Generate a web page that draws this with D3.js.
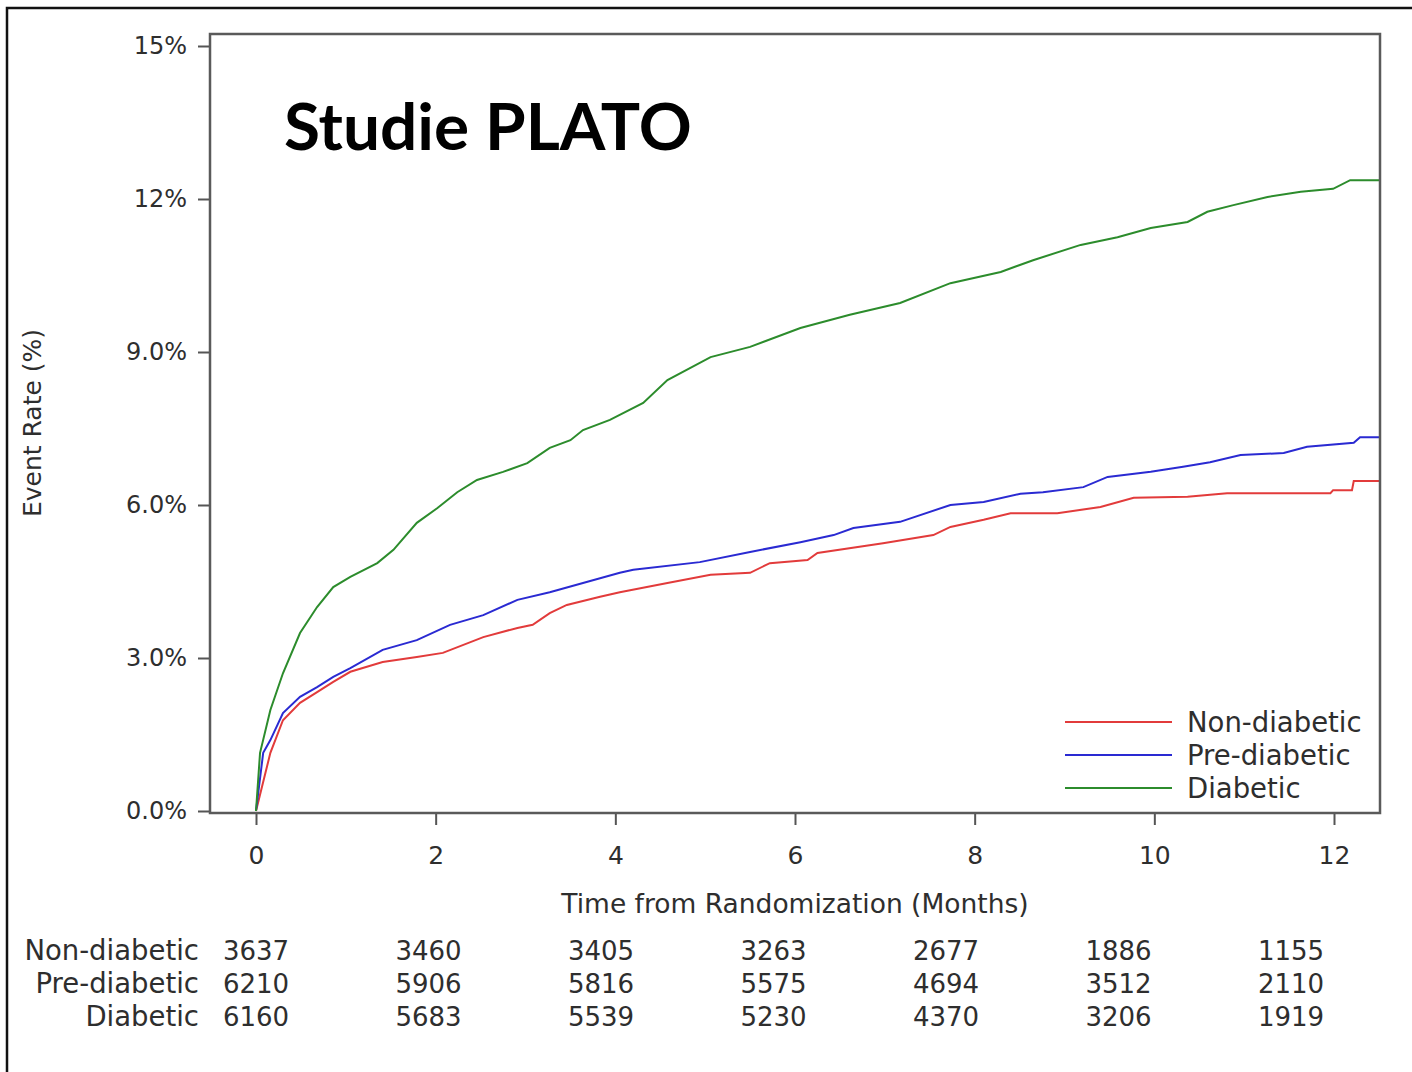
<!DOCTYPE html>
<html>
<head>
<meta charset="utf-8">
<script src="https://cdn.jsdelivr.net/npm/d3@7.9.0/dist/d3.min.js"></script>
<style>
  html, body { margin: 0; padding: 0; background: #fff; }
  svg { display: block; }
</style>
</head>
<body>
<div id="chart"></div>
<script>
// ---------- data ----------
const groups = ["Non-diabetic", "Pre-diabetic", "Diabetic"];
const groupColors = ["#e23b3b", "#2a2ad2", "#2c8c2c"];

// [months, event rate %]
const nonDiabetic = [
  [0, 0], [0.16, 1.14], [0.30, 1.78], [0.49, 2.12], [0.68, 2.33], [0.86, 2.53],
  [1.05, 2.73], [1.41, 2.92], [1.79, 3.02], [2.08, 3.10], [2.53, 3.41], [2.91, 3.59],
  [3.08, 3.65], [3.27, 3.88], [3.46, 4.04], [3.83, 4.20], [4.05, 4.29], [4.58, 4.47],
  [5.06, 4.63], [5.50, 4.67], [5.72, 4.86], [6.14, 4.92], [6.25, 5.06], [6.98, 5.25],
  [7.54, 5.41], [7.73, 5.57], [8.10, 5.71], [8.40, 5.84], [8.92, 5.84], [9.40, 5.96],
  [9.77, 6.14], [10.37, 6.16], [10.81, 6.23], [11.96, 6.23], [11.99, 6.29],
  [12.20, 6.29], [12.22, 6.47], [12.52, 6.47]
];
const preDiabetic = [
  [0, 0], [0.08, 1.14], [0.16, 1.39], [0.30, 1.92], [0.49, 2.24], [0.68, 2.43],
  [0.86, 2.63], [1.05, 2.80], [1.41, 3.16], [1.79, 3.35], [2.16, 3.65], [2.53, 3.84],
  [2.91, 4.14], [3.27, 4.29], [3.64, 4.47], [4.05, 4.67], [4.20, 4.73], [4.94, 4.88],
  [5.50, 5.08], [6.06, 5.27], [6.43, 5.41], [6.65, 5.55], [7.17, 5.67], [7.73, 6.00],
  [8.10, 6.06], [8.51, 6.22], [8.76, 6.25], [9.21, 6.35], [9.48, 6.55], [9.96, 6.65],
  [10.32, 6.75], [10.62, 6.84], [10.96, 6.98], [11.44, 7.02], [11.70, 7.14],
  [12.22, 7.22], [12.29, 7.33], [12.52, 7.33]
];
const diabetic = [
  [0, 0], [0.045, 1.14], [0.16, 1.98], [0.30, 2.70], [0.49, 3.49], [0.68, 4.00],
  [0.86, 4.39], [1.05, 4.59], [1.35, 4.86], [1.53, 5.12], [1.79, 5.65], [2.02, 5.94],
  [2.24, 6.25], [2.46, 6.49], [2.75, 6.65], [3.02, 6.82], [3.27, 7.12], [3.50, 7.27],
  [3.64, 7.47], [3.94, 7.67], [4.31, 8.00], [4.58, 8.45], [5.06, 8.90], [5.50, 9.10],
  [6.06, 9.47], [6.61, 9.73], [7.17, 9.96], [7.73, 10.35], [8.29, 10.57], [8.65, 10.80],
  [9.18, 11.10], [9.59, 11.25], [9.96, 11.43], [10.37, 11.55], [10.59, 11.75],
  [10.88, 11.88], [11.26, 12.04], [11.63, 12.14], [11.99, 12.20], [12.18, 12.37],
  [12.52, 12.37]
];
const curves = [nonDiabetic, preDiabetic, diabetic];

const xTicks = [0, 2, 4, 6, 8, 10, 12];
const yTicks = [0, 3, 6, 9, 12, 15];
const yTickLabels = ["0.0%", "3.0%", "6.0%", "9.0%", "12%", "15%"];

// patients at risk, one row per group, one value per month
const riskMonths = [0, 2, 4, 6, 8, 10, 12];
const atRisk = [
  [3637, 3460, 3405, 3263, 2677, 1886, 1155],
  [6210, 5906, 5816, 5575, 4694, 3512, 2110],
  [6160, 5683, 5539, 5230, 4370, 3206, 1919]
];

const title = "Studie PLATO";
const xLabel = "Time from Randomization (Months)";
const yLabel = "Event Rate (%)";

// ---------- layout ----------
const W = 1412, H = 1072;
const plot = { left: 210, right: 1380, top: 34, bottom: 813 };
const font = '"DejaVu Sans", Verdana, sans-serif';
const ink = "#2e2e2e";

const svg = d3.select("#chart").append("svg").attr("width", W).attr("height", H)
  .style("font-family", font);

// outer black frame
svg.append("rect")
  .attr("x", 7).attr("y", 8).attr("width", W + 20).attr("height", H + 20)
  .attr("fill", "none").attr("stroke", "#111").attr("stroke-width", 2.5);

const x = d3.scaleLinear().domain([0, 12]).range([256, 1334]);
const y = d3.scaleLinear().domain([0, 15]).range([811, 46]);

// curves
const line = d3.line().x(d => x(d[0])).y(d => y(d[1]));
svg.append("g").selectAll("path").data(curves).enter().append("path")
  .attr("d", line)
  .attr("fill", "none")
  .attr("stroke", (d, i) => groupColors[i])
  .attr("stroke-width", 2);

// y axis
const yAxis = svg.append("g").attr("transform", `translate(${plot.left},0)`)
  .call(d3.axisLeft(y).tickValues(yTicks).tickFormat((d, i) => yTickLabels[i]).tickSize(12).tickPadding(11));
yAxis.select(".domain").remove();
yAxis.selectAll("line").attr("stroke", "#555").attr("stroke-width", 2);
yAxis.selectAll("text").attr("font-size", "24px").attr("fill", ink).attr("font-family", font);

// x axis
const xAxis = svg.append("g").attr("transform", `translate(0,${plot.bottom})`)
  .call(d3.axisBottom(x).tickValues(xTicks).tickSize(12).tickPadding(21));
xAxis.select(".domain").remove();
xAxis.selectAll("line").attr("stroke", "#555").attr("stroke-width", 2);
xAxis.selectAll("text").attr("font-size", "25px").attr("fill", ink).attr("font-family", font);

// plot frame
svg.append("rect")
  .attr("x", plot.left).attr("y", plot.top)
  .attr("width", plot.right - plot.left).attr("height", plot.bottom - plot.top)
  .attr("fill", "none").attr("stroke", "#5a5a5a").attr("stroke-width", 2.5);

// axis labels
svg.append("text")
  .attr("x", 795).attr("y", 913)
  .attr("text-anchor", "middle").attr("font-size", "26.5px").attr("fill", ink)
  .text(xLabel);

svg.append("text")
  .attr("transform", "translate(41,423) rotate(-90)")
  .attr("text-anchor", "middle").attr("font-size", "25px").attr("fill", ink)
  .text(yLabel);

// title
const t = svg.append("text")
  .attr("x", 284).attr("y", 150)
  .attr("font-family", "Lato, 'Open Sans', sans-serif")
  .attr("font-weight", "bold").attr("font-size", "68px")
  .attr("fill", "#000")
  .text(title);
const tw = t.node().getComputedTextLength();
t.attr("font-size", (68 * 408 / tw).toFixed(1) + "px");

// legend
const legend = svg.append("g");
groups.forEach((g, i) => {
  const ly = 722 + i * 33;
  legend.append("line")
    .attr("x1", 1065).attr("x2", 1172).attr("y1", ly).attr("y2", ly)
    .attr("stroke", groupColors[i]).attr("stroke-width", 2);
  legend.append("text")
    .attr("x", 1187).attr("y", ly).attr("dy", "0.36em")
    .attr("font-size", "27.5px").attr("fill", ink)
    .text(g);
});

// at-risk table
const xr = d3.scaleLinear().domain([0, 12]).range([256, 1291]);
const table = svg.append("g");
groups.forEach((g, i) => {
  const ry = 960 + i * 33;
  table.append("text")
    .attr("x", 199).attr("y", ry)
    .attr("text-anchor", "end").attr("font-size", "27.5px").attr("fill", ink)
    .text(g);
  table.selectAll(null).data(atRisk[i]).enter().append("text")
    .attr("x", (d, j) => xr(riskMonths[j])).attr("y", ry)
    .attr("text-anchor", "middle").attr("font-size", "26px").attr("fill", ink)
    .text(d => d);
});
</script>
</body>
</html>
